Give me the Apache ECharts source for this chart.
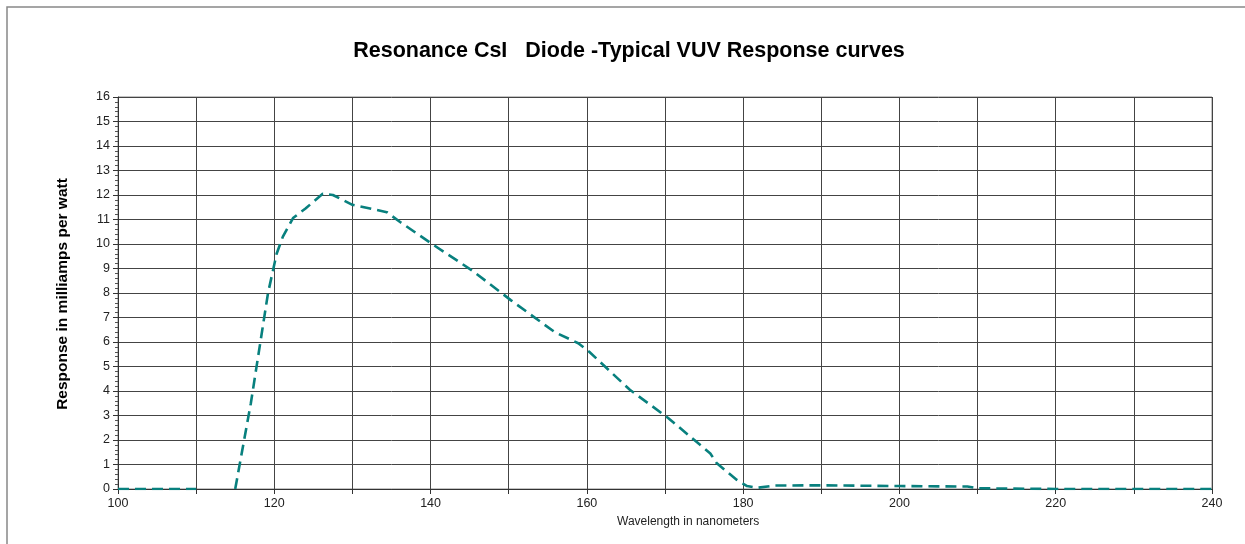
<!DOCTYPE html>
<html>
<head>
<meta charset="utf-8">
<script src="https://cdn.jsdelivr.net/npm/echarts@6/dist/echarts.min.js"></script>
<style>
html,body{margin:0;padding:0;background:#fff;}
#chart{width:1245px;height:544px;}
</style>
</head>
<body>
<div id="chart"></div>
<script>
// Data
var wavelength = [100, 110, 112, 115, 117, 119.2, 120.3, 121.1, 122.4, 124, 126.2, 127.5, 130, 134.4, 136.1, 140.2, 145.4, 150.3, 155.9, 158.9, 160.3, 165.5, 170.4, 175.8, 176.6, 179.2, 180.5, 181.8, 184, 190, 200, 208.7, 210, 220, 230, 240];
var response   = [0,   0,   null, 0,  3.5, 8.0,   9.6,   10.3,  11.06, 11.45, 12.05, 12.0, 11.6, 11.3, 10.9, 10.0, 8.9, 7.7, 6.4, 5.95, 5.6, 4.05, 2.9, 1.45, 1.06, 0.37, 0.12, 0.05, 0.14, 0.15, 0.12, 0.1, 0.03, 0, 0, 0];
var xTicks = [100, 120, 140, 160, 180, 200, 220, 240];
var yTicks = [0, 1, 2, 3, 4, 5, 6, 7, 8, 9, 10, 11, 12, 13, 14, 15, 16];

var titleText = 'Resonance CsI   Diode -Typical VUV Response curves';
var xTitle = 'Wavelength in nanometers';
var yTitle = 'Response in milliamps per watt';

var points = wavelength.map(function (w, i) { return [w, response[i]]; });

var chart = echarts.init(document.getElementById('chart'));
var font = 'Liberation Sans, Arial, sans-serif';
chart.setOption({
  animation: false,
  backgroundColor: '#fff',
  title: {
    text: titleText,
    left: 624, top: 35,
    textAlign: 'center',
    textStyle: {fontFamily: font, fontSize: 21.5, fontWeight: 'bold', color: '#000'}
  },
  grid: {left: 118, right: 33, top: 97, bottom: 55, show: true, borderColor: '#888', borderWidth: 1},
  xAxis: {
    type: 'value', min: xTicks[0], max: xTicks[xTicks.length - 1], interval: 10,
    axisLine: {show: true, lineStyle: {color: '#333', width: 1}},
    axisTick: {show: true, length: 5, lineStyle: {color: '#333'}},
    axisLabel: {
      fontFamily: font, fontSize: 12.5, color: '#222', margin: 8,
      formatter: function (v) { return xTicks.indexOf(v) >= 0 ? String(v) : ''; }
    },
    splitLine: {show: true, lineStyle: {color: '#444', width: 1}}
  },
  yAxis: {
    type: 'value', min: yTicks[0], max: yTicks[yTicks.length - 1], interval: 1,
    axisLine: {show: true, lineStyle: {color: '#333', width: 1}},
    axisTick: {show: true, length: 5, lineStyle: {color: '#333'}},
    minorTick: {show: true, splitNumber: 5, length: 3, lineStyle: {color: '#555'}},
    axisLabel: {fontFamily: font, fontSize: 12.5, color: '#222', margin: 8},
    splitLine: {show: true, lineStyle: {color: '#444', width: 1}}
  },
  graphic: [
    {type: 'rect', shape: {x: 7, y: 7, width: 1250, height: 550}, style: {fill: 'none', stroke: '#888', lineWidth: 1.5}, z: -1},
    {type: 'text', left: 617, top: 516, style: {text: xTitle, fontFamily: font, fontSize: 12, fill: '#222'}},
    {type: 'text', x: 63, y: 294, rotation: Math.PI / 2,
     style: {text: yTitle, fontFamily: font, fontSize: 15.5, fontWeight: 'bold', fill: '#000', align: 'center', verticalAlign: 'middle'}}
  ],
  series: [{
    type: 'line',
    data: points,
    showSymbol: false,
    connectNulls: false,
    smooth: false,
    lineStyle: {color: '#08807e', width: 2.6, type: [11, 6]}
  }]
});
</script>
</body>
</html>
